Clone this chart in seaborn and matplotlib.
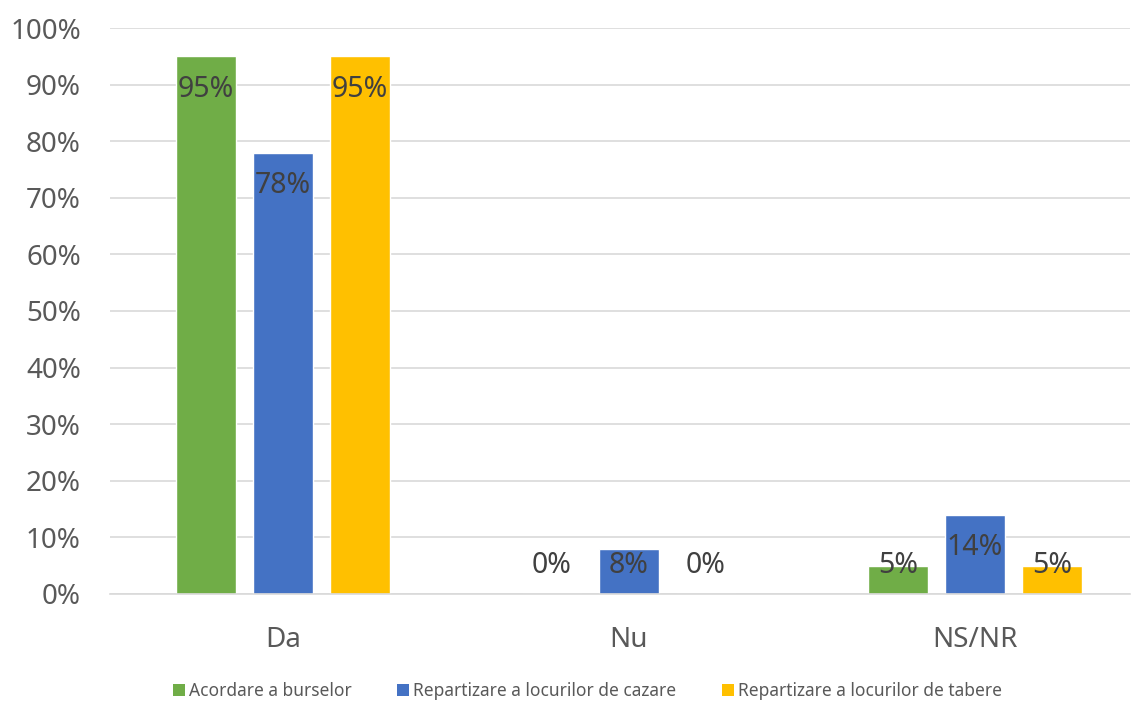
import matplotlib
matplotlib.use("Agg")
import matplotlib.pyplot as plt
import seaborn as sns
import pandas as pd
from matplotlib.patches import Patch

categories = ["Da", "Nu", "NS/NR"]
series_names = ["Acordare a burselor", "Repartizare a locurilor de cazare", "Repartizare a locurilor de tabere"]
burse = [95, 0, 5]
cazare = [78, 8, 14]
tabere = [95, 0, 5]
colors = ["#70AD47", "#4472C4", "#FFC000"]
yticks = [0, 10, 20, 30, 40, 50, 60, 70, 80, 90, 100]

rows = []
for name, vals in zip(series_names, [burse, cazare, tabere]):
    for c, v in zip(categories, vals):
        rows.append({"cat": c, "series": name, "value": v})
df = pd.DataFrame(rows)

sns.set_theme(style="white")
plt.rcParams['font.family'] = ['Noto Sans', 'DejaVu Sans']

fig = plt.figure(figsize=(11.34, 7.02), dpi=100)
ax = fig.add_axes([110 / 1134, 0.154, 1020 / 1134, 0.806])

sns.barplot(data=df, x="cat", y="value", hue="series", order=categories,
            hue_order=series_names, palette=colors, width=0.6676, gap=0.22,
            saturation=1, ax=ax, legend=False, errorbar=None)

ax.set_ylim(0, 100)
ax.set_xlim(-0.5, 2.448)
ax.set_yticks(yticks)
ax.set_yticklabels([f"{t}%" for t in yticks])
ax.yaxis.grid(True, color="#D9D9D9", linewidth=1.2)
ax.set_axisbelow(True)
for s in ["top", "right", "left"]:
    ax.spines[s].set_visible(False)
ax.spines["bottom"].set_color("#D9D9D9")
ax.spines["bottom"].set_linewidth(1.2)
ax.tick_params(axis="both", length=0, labelsize=20, colors="#595959")
ax.tick_params(axis="x", pad=23)
ax.tick_params(axis="y", pad=21)
ax.set_xlabel("")
ax.set_ylabel("")

for cont in ax.containers:
    for bar in cont:
        h = bar.get_height()
        xc = bar.get_x() + bar.get_width() / 2
        y = max(h - 5.8, 5.0)
        ax.text(xc, y, f"{h:.0f}%", ha="center", va="center", fontsize=20.5, color="#404040")

handles = [Patch(facecolor=c, edgecolor="none") for c in colors]
fig.legend(handles, series_names, loc="center", bbox_to_anchor=(0.518, 0.016), ncol=3,
           frameon=False, fontsize=12.5, labelcolor="#595959", handlelength=0.7,
           handleheight=0.7, handletextpad=0.25, columnspacing=2.6)

fig.savefig("out.png", dpi=100)
